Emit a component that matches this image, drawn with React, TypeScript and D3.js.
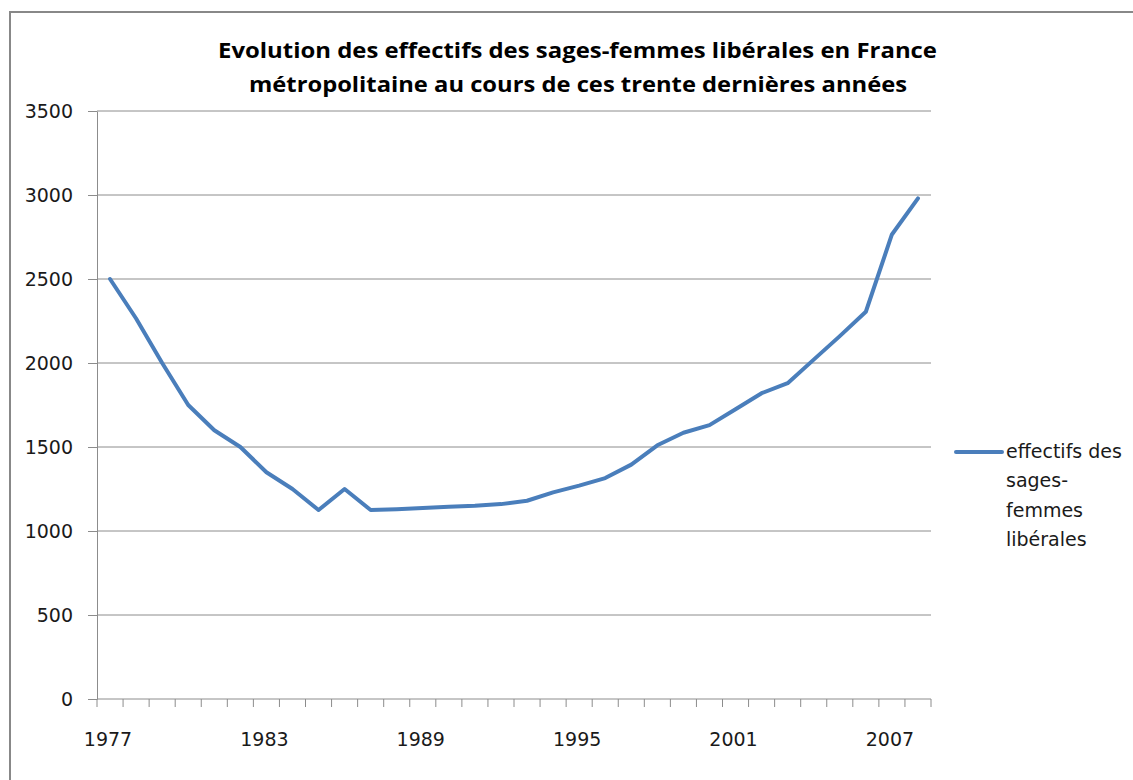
import React, { useEffect, useRef } from "react";
import * as d3 from "d3";

const years = d3.range(1977, 2009).map(String);
const effectifs = [
  2500, 2265, 2000, 1750, 1600, 1500, 1350, 1250, 1125, 1250, 1125,
  1130, 1137, 1144, 1150, 1160, 1180, 1230, 1270, 1315, 1395, 1510,
  1585, 1630, 1725, 1820, 1880, 2020, 2160, 2305, 2765, 2980,
];
const yTicks = [0, 500, 1000, 1500, 2000, 2500, 3000, 3500];
const xLabels = ["1977", "1983", "1989", "1995", "2001", "2007"];
const titleLines = [
  "Evolution des effectifs des sages-femmes libérales en France",
  "métropolitaine au cours de ces trente dernières années",
];
const legendLines = ["effectifs des", "sages-", "femmes", "libérales"];

export default function App() {
  const ref = useRef<SVGSVGElement>(null);

  useEffect(() => {
    const svg = d3.select(ref.current);
    svg.selectAll("*").remove();

    const left = 97, right = 931, top = 111, bottom = 699;
    const font = "'DejaVu Sans', sans-serif";

    // chart frame
    svg.append("rect")
      .attr("x", 10).attr("y", 12)
      .attr("width", 1140).attr("height", 800)
      .attr("fill", "#fff").attr("stroke", "#888").attr("stroke-width", 2);

    const x = d3.scaleBand().domain(years).range([left, right]).padding(0);
    const y = d3.scaleLinear().domain([0, 3500]).range([bottom, top]);

    // gridlines
    svg.selectAll(".grid")
      .data(yTicks.filter(d => d > 0))
      .join("line")
      .attr("class", "grid")
      .attr("x1", left).attr("x2", right)
      .attr("y1", d => y(d)).attr("y2", d => y(d))
      .attr("stroke", "#8c8c8c").attr("stroke-width", 1);

    // y axis
    const yAxis = svg.append("g").attr("transform", `translate(${left},0)`)
      .call(d3.axisLeft(y).tickValues(yTicks).tickFormat(d3.format("d"))
        .tickSize(9).tickSizeOuter(0).tickPadding(15));
    yAxis.select(".domain").attr("stroke", "#8c8c8c");
    yAxis.selectAll(".tick line").attr("stroke", "#8c8c8c");
    yAxis.selectAll(".tick text")
      .attr("font-family", font).attr("font-size", 19).attr("fill", "#1a1a1a");

    // x axis (ticks on category boundaries)
    const xAxisG = svg.append("g");
    xAxisG.append("line")
      .attr("x1", left).attr("x2", right)
      .attr("y1", bottom).attr("y2", bottom)
      .attr("stroke", "#8c8c8c");
    const bounds = years.map(d => x(d) as number).concat([right]);
    xAxisG.selectAll(".xt")
      .data(bounds)
      .join("line")
      .attr("class", "xt")
      .attr("x1", d => d).attr("x2", d => d)
      .attr("y1", bottom).attr("y2", bottom + 8)
      .attr("stroke", "#8c8c8c");
    xAxisG.selectAll(".xl")
      .data(xLabels)
      .join("text")
      .attr("class", "xl")
      .attr("x", d => (x(d) as number) + x.bandwidth() / 2 - 2)
      .attr("y", 746)
      .attr("text-anchor", "middle")
      .attr("font-family", font).attr("font-size", 19).attr("fill", "#1a1a1a")
      .text(d => d);

    // series line
    const line = d3.line<number>()
      .x((d, i) => (x(years[i]) as number) + x.bandwidth() / 2)
      .y(d => y(d));
    svg.append("path")
      .datum(effectifs)
      .attr("d", line)
      .attr("fill", "none")
      .attr("stroke", "#4a7ebb")
      .attr("stroke-width", 4)
      .attr("stroke-linejoin", "round")
      .attr("stroke-linecap", "round");

    // title
    svg.selectAll(".title")
      .data(titleLines)
      .join("text")
      .attr("class", "title")
      .attr("x", (d, i) => (i === 0 ? 218 : 249))
      .attr("y", (d, i) => (i === 0 ? 58 : 92))
      .attr("textLength", (d, i) => (i === 0 ? 719 : 658))
      .attr("lengthAdjust", "spacingAndGlyphs")
      .attr("font-family", "'Open Sans', sans-serif")
      .attr("font-weight", "bold")
      .attr("font-size", 22)
      .attr("fill", "#000")
      .text(d => d);

    // legend
    svg.append("line")
      .attr("x1", 956).attr("x2", 1002)
      .attr("y1", 452).attr("y2", 452)
      .attr("stroke", "#4a7ebb").attr("stroke-width", 4)
      .attr("stroke-linecap", "round");
    svg.selectAll(".leg")
      .data(legendLines)
      .join("text")
      .attr("class", "leg")
      .attr("x", 1006)
      .attr("y", (d, i) => 458 + i * 29.3)
      .attr("font-family", font).attr("font-size", 19).attr("fill", "#1a1a1a")
      .text(d => d);
  }, []);

  return (
    <div style={{ position: "absolute", left: 0, top: 0 }}>
      <svg ref={ref} width={1133} height={780} style={{ display: "block" }} />
    </div>
  );
}
